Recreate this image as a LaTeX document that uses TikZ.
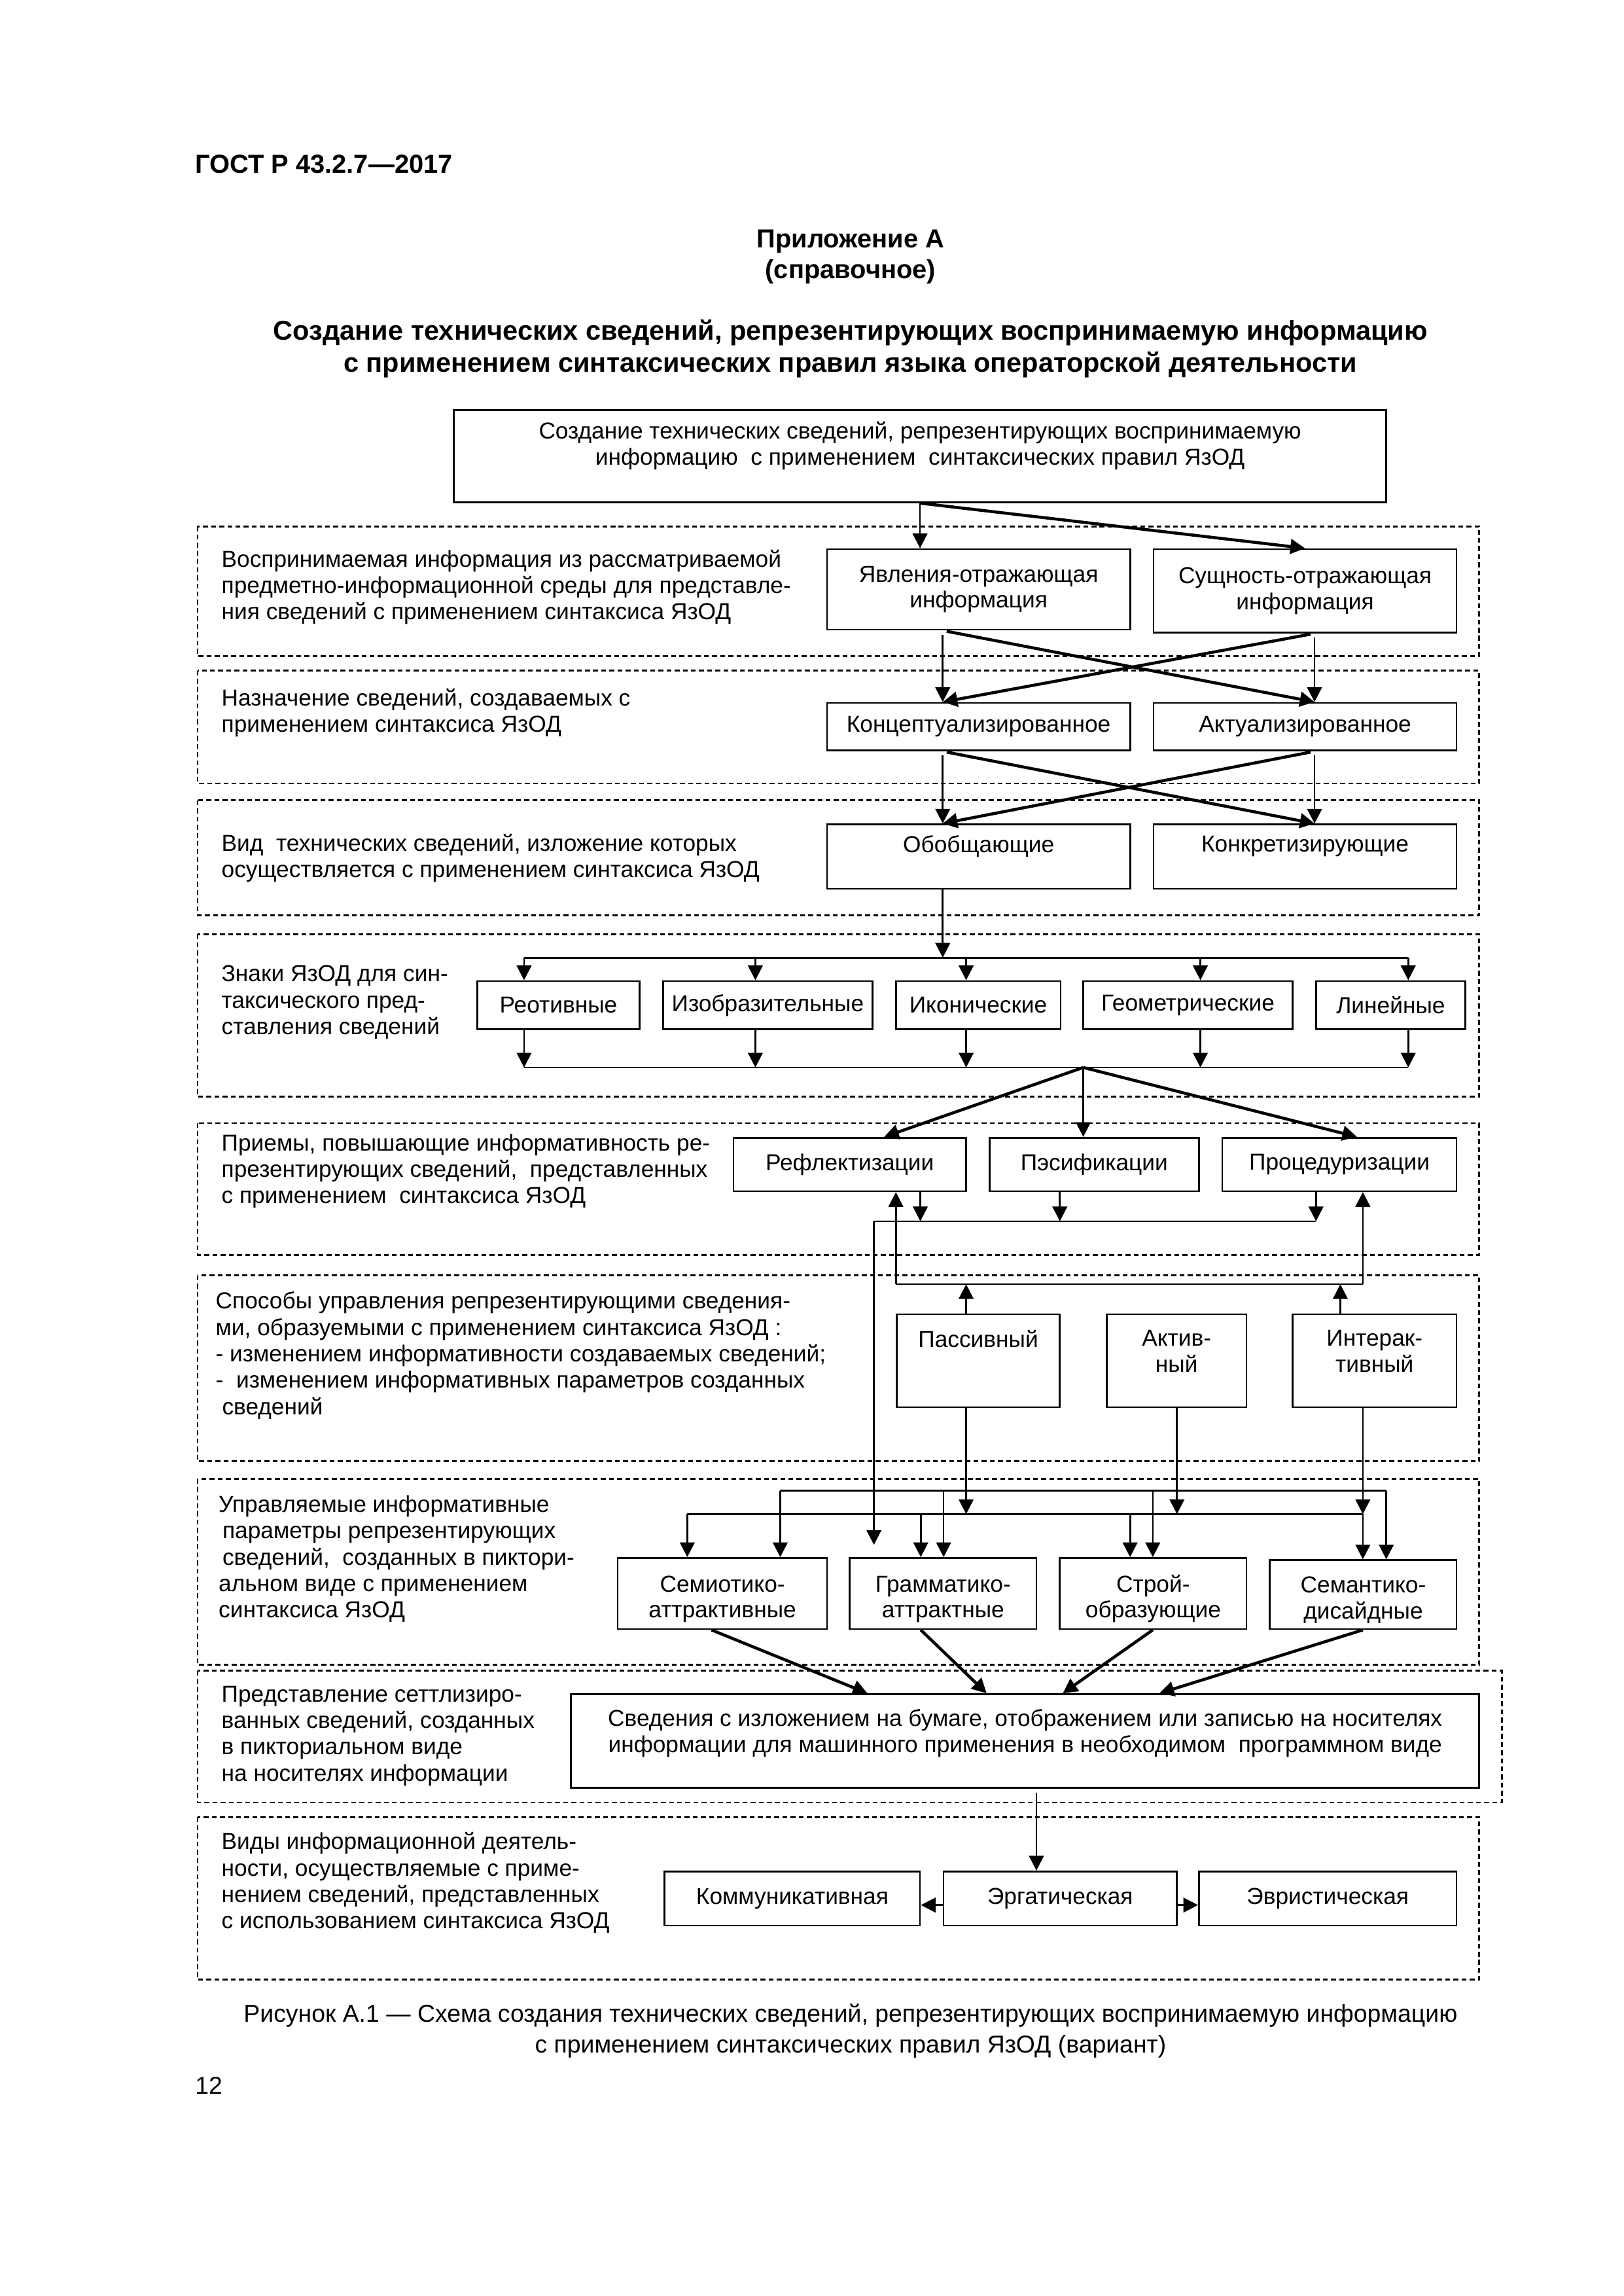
\documentclass[tikz,border=0pt]{standalone}
\usepackage{fontspec}
\setmainfont{Liberation Sans}
\usetikzlibrary{positioning}
\usetikzlibrary{arrows.meta}

\begin{document}
\begin{tikzpicture}[
    x=0.018936cm, y=-0.018936cm,
    >={Triangle[length=1.9mm,width=1.9mm]},
    every node/.style={font=\fontsize{8.5}{9.5}\selectfont},
    block/.style={draw, line width=0.65pt, inner sep=0pt, align=center},
    spot/.style n args={4}{minimum width={(#3-#1)*0.018936cm}, minimum height={(#4-#2)*0.018936cm},
        anchor=center, at={({(#1+#3)/2},{(#2+#4)/2})}},
    zone/.style={draw, line width=0.65pt, dash pattern=on 1.8pt off 1.2pt},
    note/.style={anchor=north west, inner sep=0pt, align=left, font=\fontsize{8.5}{9.7}\selectfont},
    link/.style={->, line width=0.65pt},
    cross/.style={->, line width=1.1pt},
    rail/.style={line width=0.65pt}
]
\useasboundingbox (0,0) rectangle (1109,1568);

% header
\node[anchor=base west, inner sep=0pt, font=\fontsize{9.6}{11.5}\selectfont\bfseries] (gost) at (133,118) {ГОСТ Р 43.2.7—2017};
\node[anchor=base, inner sep=0pt, font=\fontsize{9.6}{11.5}\selectfont\bfseries] (app) at (581,169) {Приложение А};
\node[anchor=base, inner sep=0pt, font=\fontsize{9.6}{11.5}\selectfont\bfseries] (appkind) at (581,190) {(справочное)};
\node[anchor=north, inner sep=0pt, align=center, font=\fontsize{10}{11.8}\selectfont\bfseries] (title) at (581,218)
  {Создание технических сведений, репрезентирующих воспринимаемую информацию\\с применением синтаксических правил языка операторской деятельности};

% dashed zones
\foreach \ya/\yb/\xb in {359.5/448/1010.5, 458/535/1010.5, 546.5/625/1010.5, 638/749/1010.5,
    767/857/1010.5, 871/998/1010.5, 1010/1137/1010.5, 1141/1231/1026, 1241/1352/1010.5}
  \draw[zone] (135,\ya) rectangle (\xb,\yb);

% zone notes
\node[note] (n1) at (151,375) {Воспринимаемая информация из рассматриваемой\\предметно-информационной среды для представле-\\ния сведений с применением синтаксиса ЯзОД};
\node[note] (n2) at (151,470) {Назначение сведений, создаваемых с\\применением синтаксиса ЯзОД};
\node[note] (n3) at (151,569) {Вид \ технических сведений, изложение которых\\осуществляется с применением синтаксиса ЯзОД};
\node[note] (n4) at (151,659) {Знаки ЯзОД для син-\\таксического пред-\\ставления сведений};
\node[note] (n5) at (151,774) {Приемы, повышающие информативность ре-\\презентирующих сведений, \ представленных\\с применением \ синтаксиса ЯзОД};
\node[note] (n6) at (147,882) {Способы управления репрезентирующими сведения-\\ми, образуемыми с применением синтаксиса ЯзОД :\\- изменением информативности создаваемых сведений;\\- \ изменением информативных параметров созданных\\\ сведений};
\node[note] (n7) at (149,1021) {Управляемые информативные\\\,параметры репрезентирующих\\\,сведений, \ созданных в пиктори-\\альном виде с применением\\синтаксиса ЯзОД};
\node[note] (n8) at (151,1151) {Представление сеттлизиро-\\ванных сведений, созданных\\в пикториальном виде\\на носителях информации};
\node[note] (n9) at (151,1251) {Виды информационной деятель-\\ности, осуществляемые с приме-\\нением сведений, представленных\\с использованием синтаксиса ЯзОД};

% boxes
\node[block, spot={310}{280}{947}{343}] (top) {Создание технических сведений, репрезентирующих воспринимаемую\\информацию \ с применением \ синтаксических правил ЯзОД\\\mbox{}};
\node[block, spot={565}{375}{772}{430}] (yav) {Явления-отражающая\\информация};
\node[block, spot={788}{375}{995}{432}] (such) {Сущность-отражающая\\информация};
\node[block, spot={565}{480}{772}{512.5}] (konc) {Концептуализированное};
\node[block, spot={788}{480}{995}{512.5}] (akt) {Актуализированное};
\node[block, spot={565}{563}{772}{607}] (obob) {Обобщающие\\\mbox{}};
\node[block, spot={788}{563}{995}{607}] (konk) {Конкретизирующие\\\mbox{}};
\node[block, spot={326}{670}{437}{703}] (reo) {Реотивные};
\node[block, spot={453}{670}{596}{703}] (izo) {Изобразительные};
\node[block, spot={612}{670}{724.5}{703}] (ikon) {Иконические};
\node[block, spot={740}{670}{883}{703}] (geom) {Геометрические};
\node[block, spot={899}{670}{1001}{703}] (lin) {Линейные};
\node[block, spot={501}{777}{660}{813.5}] (refl) {Рефлектизации};
\node[block, spot={676}{777}{819}{813.5}] (pes) {Пэсификации};
\node[block, spot={835}{777}{995}{813.5}] (proc) {Процедуризации};
\node[block, spot={612.5}{897.5}{724}{961}] (pass) {Пассивный\\[6.7pt]\mbox{}};
\node[block, spot={756}{897.5}{851.5}{961}] (akti) {Актив-\\ный\\[-2.5pt]\mbox{}};
\node[block, spot={883}{897.5}{995}{961}] (inter) {Интерак-\\тивный\\[-2.5pt]\mbox{}};
\node[block, spot={422}{1064}{565}{1112.5}] (sem) {\mbox{}\\[0.5pt]Семиотико-\\аттрактивные};
\node[block, spot={580.5}{1064}{708}{1112.5}] (gram) {\mbox{}\\[0.5pt]Грамматико-\\аттрактные};
\node[block, spot={724}{1064}{851.5}{1112.5}] (stroy) {\mbox{}\\[0.5pt]Строй-\\образующие};
\node[block, spot={867.5}{1065.5}{995}{1112.5}] (semant) {\mbox{}\\[0.5pt]Семантико-\\дисайдные};
\node[block, spot={390}{1157}{1010.5}{1221}] (big) {Сведения с изложением на бумаге, отображением или записью на носителях\\информации для машинного применения в необходимом \ программном виде\\[-2.1pt]\mbox{}};
\node[block, spot={454}{1278}{628.5}{1315}] (komm) {Коммуникативная};
\node[block, spot={644.5}{1278}{804}{1315}] (erg) {Эргатическая};
\node[block, spot={819}{1278}{995}{1315}] (evr) {Эвристическая};

% columns and rails
\foreach \c/\cx in {cl/644, cr/898, hubx/740, rfx/604, prx/927, dx1/628.7, dx2/724, dx3/899,
    px1/660, px2/804, px3/915.6, ex/708}
  \coordinate (\c) at (\cx,0);
\coordinate (b4tl) at (358,654);  \coordinate (b4tr) at (962,654);
\coordinate (b4bl) at (358,729);  \coordinate (b4br) at (962,729);
\coordinate (hub) at (740,729);
\coordinate (b5l) at (597,834);   \coordinate (b5r) at (899,834);
\coordinate (gramin) at (597,1055);
\coordinate (b6l) at (612,877);   \coordinate (b6r) at (931,877);
\coordinate (b7al) at (533,1018); \coordinate (b7ar) at (947,1018);
\coordinate (b7bl) at (469.5,1034); \coordinate (b7br) at (931,1034);
\coordinate (ey) at (0,1301);

% top -> first zone
\draw[link] (top.south) -- (top.south |- yav.north);
\draw[cross] (top.south) -- (such.north);

% crossings
\draw[link, shorten <=1.5pt] (yav.south -| cl) -- (konc.north -| cl);
\draw[cross, shorten <=1.5pt] (yav.south -| cl) -- (akt.north -| cr);
\draw[link, shorten <=1.5pt] (such.south -| cr) -- (akt.north -| cr);
\draw[cross, shorten <=1.5pt] (such.south -| cr) -- (konc.north -| cl);
\draw[link, shorten <=1.5pt] (konc.south -| cl) -- (obob.north -| cl);
\draw[cross, shorten <=1.5pt] (konc.south -| cl) -- (konk.north -| cr);
\draw[link, shorten <=1.5pt] (akt.south -| cr) -- (konk.north -| cr);
\draw[cross, shorten <=1.5pt] (akt.south -| cr) -- (obob.north -| cl);

% signs
\draw[link] (obob.south -| cl) -- (b4tl -| cl);
\draw[rail] (b4tl) -- (b4tr);
\draw[rail] (b4bl) -- (b4br);
\foreach \n/\cx in {reo/358, izo/516, ikon/660, geom/820, lin/962} {
  \coordinate (t) at (\cx,654);
  \draw[link] (t) -- (t |- \n.north);
  \draw[link] (t |- \n.south) -- (t |- b4bl);
}
\draw[cross] (hub) -- (refl.north -| rfx);
\draw[link] (hub) -- (pes.north -| hubx);
\draw[cross] (hub) -- (proc.north -| prx);

% methods and control
\draw[rail] (b5l) -- (b5r);
\draw[link] (refl.south -| dx1) -- (b5l -| dx1);
\draw[link] (pes.south -| dx2) -- (b5l -| dx2);
\draw[link] (proc.south -| dx3) -- (b5r);
\draw[link] (b5l) -- (gramin);
\draw[rail] (b6l) -- (b6r);
\draw[link] (b6l) -- (b6l |- refl.south);
\draw[link] (b6r) -- (b6r |- proc.south);
\draw[link] (pass.north -| px1) -- (b6l -| px1);
\draw[link] (inter.north -| px3) -- (b6l -| px3);

% parameters
\draw[link] (pass.south -| px1) -- (b7bl -| px1);
\draw[link] (akti.south -| px2) -- (b7bl -| px2);
\draw[link] (inter.south -| b7br) -- (b7br);
\draw[rail] (b7al) -- (b7ar);
\draw[rail] (b7bl) -- (b7br);
\foreach \n/\cx in {sem/533, gram/644.6, stroy/787.5, semant/947} {
  \coordinate (t) at (\cx,1018);
  \draw[link] (t) -- (t |- \n.north);
}
\foreach \n/\cx in {sem/469.5, gram/629, stroy/772, semant/931} {
  \coordinate (t) at (\cx,1034);
  \draw[link] (t) -- (t |- \n.north);
}
\foreach \n/\sx/\ex in {sem/486/592.6, gram/629/674, stroy/787.5/726, semant/931/792} {
  \coordinate (s) at (\sx,0);
  \coordinate (e) at (\ex,0);
  \draw[cross] (\n.south -| s) -- (big.north -| e);
}

% activity
\draw[link, shorten <=1.5pt] (big.south -| ex) -- (erg.north -| ex);
\draw[link] (erg.west |- ey) -- (komm.east |- ey);
\draw[link] (erg.east |- ey) -- (evr.west |- ey);

% caption
\node[anchor=north, inner sep=0pt, align=center, font=\fontsize{9}{11.3}\selectfont] (cap) at (581,1368)
  {Рисунок А.1 — Схема создания технических сведений, репрезентирующих воспринимаемую информацию\\с применением синтаксических правил ЯзОД (вариант)};
\node[anchor=base west, inner sep=0pt, font=\fontsize{9}{11}\selectfont] (page) at (133,1430) {12};
\end{tikzpicture}
\end{document}
